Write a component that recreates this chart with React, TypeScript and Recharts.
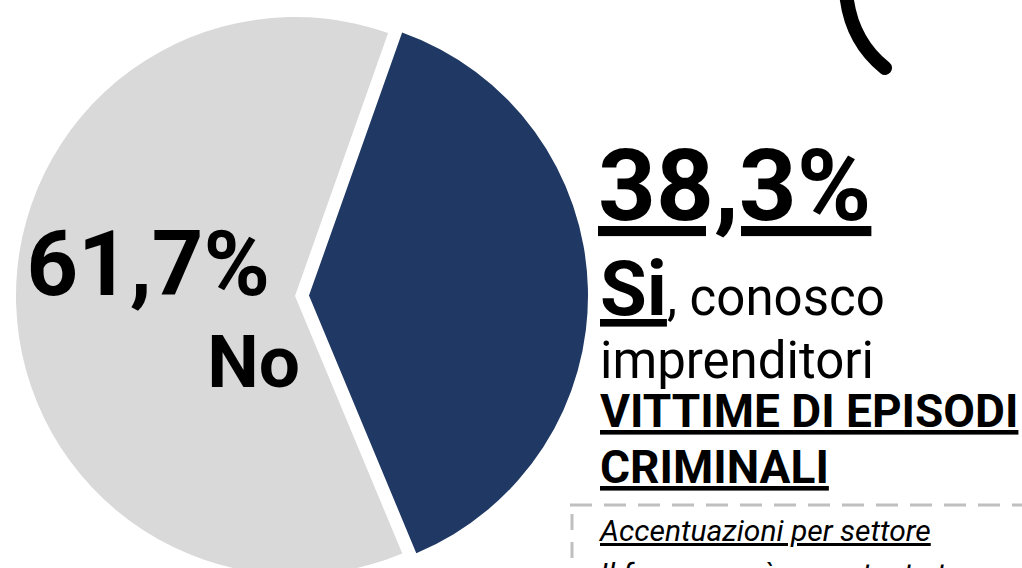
import React from 'react';
import { PieChart, Pie, Cell } from 'recharts';

// risposte alla domanda (percentuali)
const answers = ['Si', 'No'];
const shares = [38.3, 61.7];
const sliceColors = ['#1F3864', '#D9D9D9'];

const W = 1022;
const H = 568;
const CX = 290;
const CY = 291;
const R = 279;
const START = 70.5;
const EXPLODE = 14;

const pieData = answers.map((name, i) => ({ name, value: shares[i] }));

const fmt = (v: number) => `${v.toFixed(1).replace('.', ',')}%`;

// angolo medio della fetta "Si" per lo spostamento
const siMid = START - (shares[0] / (shares[0] + shares[1])) * 360 / 2;
const dx = EXPLODE * Math.cos((siMid * Math.PI) / 180);
const dy = -EXPLODE * Math.sin((siMid * Math.PI) / 180);

const FONT = 'Roboto, "Open Sans", sans-serif';

export default function App() {
  return (
    <div
      style={{
        position: 'absolute',
        left: 0,
        top: 0,
        width: W,
        height: H,
        overflow: 'hidden',
        background: '#fff',
        fontFamily: FONT,
      }}
    >
      <div style={{ position: 'absolute', left: 0, top: 0 }}>
        <PieChart width={W} height={H}>
          {/* fetta No (grigia) */}
          <Pie
            data={pieData}
            dataKey="value"
            cx={CX}
            cy={CY}
            outerRadius={R}
            startAngle={START}
            endAngle={START - 360}
            stroke="none"
            isAnimationActive={false}
          >
            {pieData.map((d, i) => (
              <Cell key={`g-${i}`} fill={i === 1 ? sliceColors[1] : 'transparent'} />
            ))}
          </Pie>
          {/* fetta Si (blu) leggermente staccata */}
          <Pie
            data={pieData}
            dataKey="value"
            cx={CX + dx}
            cy={CY + dy}
            outerRadius={R}
            startAngle={START}
            endAngle={START - 360}
            stroke="none"
            isAnimationActive={false}
          >
            {pieData.map((d, i) => (
              <Cell key={`b-${i}`} fill={i === 0 ? sliceColors[0] : 'transparent'} />
            ))}
          </Pie>
        </PieChart>
      </div>

      <svg
        width={W}
        height={H}
        style={{ position: 'absolute', left: 0, top: 0, pointerEvents: 'none' }}
        fontFamily={FONT}
      >
        <path d="M 846 -8 Q 850 40 885 68" fill="none" stroke="#000" strokeWidth={14} strokeLinecap="round" />

        <text x={270} y={295} textAnchor="end" fontSize={90} fontWeight={700} fill="#000">
          {fmt(shares[1])}
        </text>
        <text x={300} y={387} textAnchor="end" fontSize={73} fontWeight={700} fill="#000">
          {answers[1]}
        </text>

        <text
          x={598}
          y={220}
          fontSize={101}
          fontWeight={700}
          fill="#000"
          style={{ textDecoration: 'underline', textDecorationThickness: 4 }}
        >
          {fmt(shares[0])}
        </text>
        <text x={600} y={315} fill="#000">
          <tspan fontSize={76} fontWeight={700} style={{ textDecoration: 'underline', textDecorationThickness: 3 }}>
            {answers[0]}
          </tspan>
          <tspan fontSize={51} fontWeight={400}>, conosco</tspan>
        </text>
        <text x={600} y={378} fontSize={51} fontWeight={400} fill="#000">
          imprenditori
        </text>
        <text
          x={600}
          y={427}
          fontSize={46}
          fontWeight={700}
          fill="#000"
          style={{ textDecoration: 'underline', textDecorationThickness: 3 }}
        >
          VITTIME DI EPISODI
        </text>
        <text
          x={600}
          y={483}
          fontSize={46}
          fontWeight={700}
          fill="#000"
          style={{ textDecoration: 'underline', textDecorationThickness: 3 }}
        >
          CRIMINALI
        </text>

        <line x1={570} y1={505} x2={W} y2={505} stroke="#BFBFBF" strokeWidth={3} strokeDasharray="22 12" />
        <line x1={572} y1={514} x2={572} y2={H} stroke="#BFBFBF" strokeWidth={3} strokeDasharray="16 12" />

        <text
          x={600}
          y={541}
          fontSize={30}
          fontStyle="italic"
          fill="#000"
          style={{ textDecoration: 'underline', textDecorationThickness: 1.5 }}
        >
          Accentuazioni per settore
        </text>
        <text x={600} y={584} fontSize={30} fontStyle="italic" fill="#000">
          Il fenomeno è accentuato tra
        </text>
      </svg>
    </div>
  );
}
